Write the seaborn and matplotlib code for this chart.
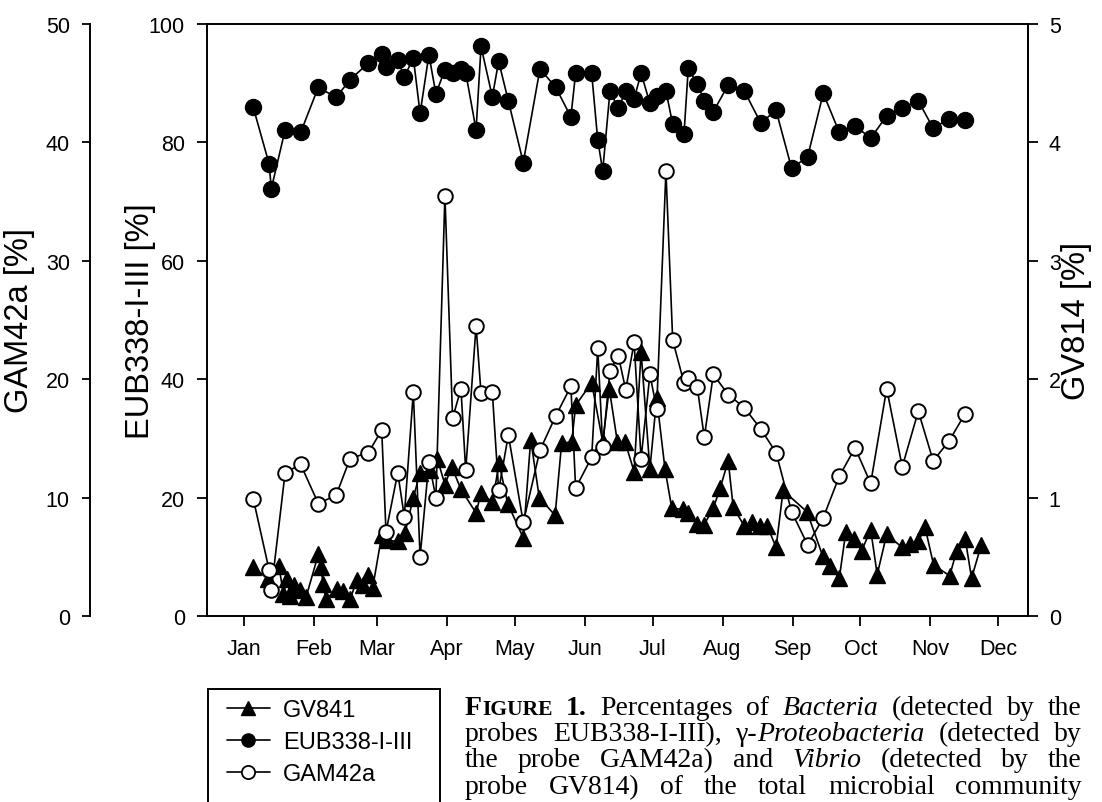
import numpy as np
import pandas as pd
import matplotlib
matplotlib.use("Agg")
import matplotlib.pyplot as plt
import seaborn as sns
from matplotlib.patches import Rectangle
from matplotlib.lines import Line2D
from matplotlib.font_manager import FontProperties

# ---------------- data ----------------
months = ["Jan", "Feb", "Mar", "Apr", "May", "Jun", "Jul", "Aug", "Sep", "Oct", "Nov", "Dec"]
month_start_day = [0, 31, 59, 90, 120, 151, 181, 212, 243, 273, 304, 334]

# sampling days (day of year) for EUB338-I-III and GAM42a
sample_days = [4.1, 11.1, 12.1, 18.2, 25.1, 32.9, 40.8, 47.0, 55.1, 61.0, 62.9, 68.1, 71.0,
               75.0, 78.0, 81.9, 85.0, 89.0, 92.4, 96.1, 98.2, 102.8, 105.0, 110.0, 112.8,
               117.1, 123.7, 131.1, 138.1, 144.8, 146.9, 154.0, 156.7, 158.9, 162.1, 165.8,
               169.1, 172.8, 175.9, 179.8, 182.8, 186.9, 189.9, 194.9, 196.8, 200.8, 203.9,
               207.9, 214.5, 221.6, 228.9, 235.7, 242.6, 249.7, 256.6, 263.7, 270.7, 277.6,
               284.7, 291.6, 298.7, 305.3, 312.4, 319.5]

eub_vals = [85.9, 76.4, 72.2, 82.1, 81.7, 89.3, 87.6, 90.6, 93.4, 94.9, 92.7, 94.0, 91.0,
            94.3, 84.9, 94.8, 88.2, 92.3, 91.8, 92.4, 91.8, 82.1, 96.2, 87.7, 93.7,
            87.0, 76.6, 92.4, 89.3, 84.3, 91.7, 91.7, 80.4, 75.2, 88.6, 85.8,
            88.6, 87.3, 91.7, 86.6, 87.8, 88.7, 83.1, 81.4, 92.5, 89.9, 87.0,
            85.2, 89.7, 88.7, 83.3, 85.4, 75.6, 77.6, 88.3, 81.7, 82.8, 80.7,
            84.5, 85.8, 87.0, 82.4, 84.0, 83.8]

gam_vals = [9.9, 3.9, 2.2, 12.1, 12.8, 9.5, 10.2, 13.3, 13.8, 15.7, 7.1, 12.1, 8.4,
            18.9, 5.0, 13.0, 10.0, 35.5, 16.7, 19.2, 12.3, 24.5, 18.8, 18.9, 10.6,
            15.3, 7.9, 14.0, 16.9, 19.4, 10.8, 13.4, 22.6, 14.3, 20.7, 22.0,
            19.1, 23.1, 13.3, 20.4, 17.5, 37.6, 23.3, 19.7, 20.1, 19.3, 15.1,
            20.4, 18.7, 17.6, 15.8, 13.8, 8.8, 6.0, 8.3, 11.8, 14.2, 11.2,
            19.2, 12.6, 17.3, 13.1, 14.8, 17.1]

gv_days = [4.1, 10.8, 15.5, 17.4, 19.2, 20.4, 22.1, 24.8, 27.5, 32.9, 34.0, 35.1, 36.3,
           41.1, 43.7, 47.0, 49.9, 52.8, 55.1, 57.0, 61.0, 63.2, 68.1, 71.3, 75.0, 78.0,
           82.4, 85.6, 89.0, 92.0, 96.1, 102.8, 105.0, 110.0, 113.0, 116.8, 123.7, 127.0,
           130.8, 137.8, 140.7, 145.2, 146.9, 154.0, 158.9, 161.8, 165.4, 168.8, 172.8,
           175.9, 179.8, 182.8, 186.5, 189.5, 194.6, 196.8, 200.5, 203.8, 207.9, 210.9,
           214.5, 216.7, 221.6, 224.9, 228.6, 231.8, 235.7, 238.8, 249.4, 256.3, 259.4,
           263.7, 266.6, 270.4, 273.6, 277.6, 280.5, 284.7, 291.5, 295.0, 298.7, 301.7,
           305.5, 312.6, 315.7, 319.5, 322.3, 326.6]
gv_vals = [0.41, 0.31, 0.42, 0.19, 0.31, 0.17, 0.26, 0.22, 0.16, 0.52, 0.41, 0.27, 0.14,
           0.23, 0.21, 0.14, 0.30, 0.26, 0.35, 0.24, 0.68, 0.64, 0.63, 0.70, 1.00, 1.21,
           1.23, 1.33, 1.11, 1.26, 1.07, 0.87, 1.04, 0.96, 1.29, 0.95, 0.66, 1.49,
           1.00, 0.85, 1.46, 1.47, 1.78, 1.97, 1.47, 1.92, 1.47, 1.47, 1.22,
           2.23, 1.24, 1.84, 1.24, 0.91, 0.90, 0.87, 0.78, 0.77, 0.91, 1.08,
           1.31, 0.92, 0.76, 0.79, 0.76, 0.76, 0.58, 1.06, 0.88, 0.51, 0.42,
           0.32, 0.71, 0.65, 0.55, 0.73, 0.35, 0.69, 0.58, 0.61, 0.63, 0.75,
           0.43, 0.34, 0.55, 0.65, 0.32, 0.60]

eub_df = pd.DataFrame({"day": sample_days, "pct": eub_vals})
gam_df = pd.DataFrame({"day": sample_days, "pct": gam_vals})
gv_df = pd.DataFrame({"day": gv_days, "pct": gv_vals})

# ---------------- style ----------------
sns.set_theme(style="ticks", rc={
    "axes.edgecolor": "black", "axes.linewidth": 1.4,
    "xtick.color": "black", "ytick.color": "black",
    "text.color": "black", "axes.labelcolor": "black",
})
plt.rcParams["font.family"] = ["Liberation Sans", "DejaVu Sans"]

W, H = 1102, 803
L, R, T, B = 207, 1028, 25, 617
fig = plt.figure(figsize=(W / 100, H / 100), dpi=100)
ax = fig.add_axes([L / W, 1 - B / H, (R - L) / W, (B - T) / H])
ax_gv = ax.twinx()
ax_gam = ax.twinx()

LW = 1.2
sns.lineplot(data=eub_df, x="day", y="pct", ax=ax, color="black", marker="o",
             markersize=11.5, markerfacecolor="black", markeredgecolor="black",
             markeredgewidth=1, linewidth=LW, estimator=None, sort=False)
sns.lineplot(data=gv_df, x="day", y="pct", ax=ax_gv, color="black", marker="^",
             markersize=11, markerfacecolor="black", markeredgecolor="black",
             markeredgewidth=1, linewidth=LW, estimator=None, sort=False)
sns.lineplot(data=gam_df, x="day", y="pct", ax=ax_gam, color="black", marker="o",
             markersize=10.5, markerfacecolor="white", markeredgecolor="black",
             markeredgewidth=1.4, linewidth=LW, estimator=None, sort=False)

FS = 15.5
ax.set_xlim(-16.4, 347.3)
ax.set_ylim(0, 100)
ax_gv.set_ylim(0, 5)
ax_gam.set_ylim(0, 50)
ax.set_xticks(month_start_day)
ax.set_xticklabels(months)
ax.set_yticks(range(0, 101, 20))
ax_gv.set_yticks(range(0, 6))
ax_gam.set_yticks(range(0, 51, 10))

ax.tick_params(axis="x", direction="out", length=7, width=1.3, labelsize=FS, pad=9)
ax.tick_params(axis="y", direction="out", length=7, width=1.3, labelsize=FS, pad=9)
ax_gv.tick_params(axis="y", direction="out", length=7, width=1.3, labelsize=FS, pad=8)
ax_gam.tick_params(axis="y", direction="out", length=6, width=1.3, labelsize=FS, pad=8.5)

ax_gam.spines["left"].set_position(("axes", (90 - L) / (R - L)))
ax_gam.spines["left"].set_visible(True)
ax_gam.yaxis.set_ticks_position("left")
ax_gam.yaxis.set_label_position("left")
for s in ["top", "bottom", "right"]:
    ax_gam.spines[s].set_visible(False)
for s in ["top", "bottom", "left"]:
    ax_gv.spines[s].set_visible(False)
for a in (ax, ax_gv, ax_gam):
    a.grid(False)

LFS = 23.5
ax.set_xlabel("")
ax.set_ylabel("EUB338-I-III [%]", fontsize=LFS)
ax_gv.set_ylabel("GV814 [%]", fontsize=LFS)
ax_gam.set_ylabel("GAM42a [%]", fontsize=LFS)
ax.yaxis.set_label_coords((140 - L) / (R - L), 0.5)
ax_gam.yaxis.set_label_coords((19 - L) / (R - L), 0.5)
ax_gv.yaxis.set_label_coords((1077 - L) / (R - L), 0.5)
for a in (ax, ax_gv, ax_gam):
    a.yaxis.label.set_verticalalignment("center")
    a.yaxis.label.set_rotation(90)

# ---------------- legend ----------------
handles = [
    Line2D([], [], color="black", lw=LW, marker="^", markersize=9.5, mfc="black", mec="black"),
    Line2D([], [], color="black", lw=LW, marker="o", markersize=9.5, mfc="black", mec="black"),
    Line2D([], [], color="black", lw=LW, marker="o", markersize=9.5, mfc="white", mec="black", mew=1.3),
]
leg_labels = ["GV841", "EUB338-I-III", "GAM42a"]
fig.legend(handles, leg_labels, loc="upper left", bbox_to_anchor=(227 / W, 1 - 700 / H),
           frameon=False, fontsize=17, handlelength=1.8, handletextpad=0.58,
           labelspacing=0.42, borderpad=0, borderaxespad=0)
fig.add_artist(Rectangle((208 / W, 1 - 850 / H), (440 - 208) / W, (850 - 690) / H,
                         transform=fig.transFigure, fill=False, lw=1.4, ec="black",
                         clip_on=False))

# ---------------- caption (justified) ----------------
CS = 20
fp = {
    "r": FontProperties(family="Liberation Serif", size=CS),
    "i": FontProperties(family="Liberation Serif", size=CS, style="italic"),
    "b": FontProperties(family="Liberation Serif", size=CS, weight="bold"),
    "s": FontProperties(family="Liberation Serif", size=CS * 0.78, weight="bold"),
}
cap_lines = [
    [[("F", "b"), ("IGURE", "s")], [("1.", "b")], [("Percentages", "r")], [("of", "r")],
     [("Bacteria", "i")], [("(detected", "r")], [("by", "r")], [("the", "r")]],
    [[("probes", "r")], [("EUB338-I-III),", "r")], [("γ-", "r"), ("Proteobacteria", "i")],
     [("(detected", "r")], [("by", "r")]],
    [[("the", "r")], [("probe", "r")], [("GAM42a)", "r")], [("and", "r")], [("Vibrio", "i")],
     [("(detected", "r")], [("by", "r")], [("the", "r")]],
    [[("probe", "r")], [("GV814)", "r")], [("of", "r")], [("the", "r")], [("total", "r")],
     [("microbial", "r")], [("community", "r")]],
]
cap_base = [715, 741, 767, 794]
cap_x0, cap_x1 = 465, 1082

fig.canvas.draw()
rend = fig.canvas.get_renderer()


def run_w(s, key):
    w, h, d = rend.get_text_width_height_descent(s, fp[key], ismath=False)
    return w


for words, yb in zip(cap_lines, cap_base):
    widths = [sum(run_w(s, k) for s, k in wd) for wd in words]
    gap = (cap_x1 - cap_x0 - sum(widths)) / (len(words) - 1)
    x = cap_x0
    for wd, ww in zip(words, widths):
        xx = x
        for s, k in wd:
            fig.text(xx / W, 1 - yb / H, s, fontproperties=fp[k], ha="left", va="baseline")
            xx += run_w(s, k)
        x += ww + gap

fig.savefig("out.png", dpi=100)
